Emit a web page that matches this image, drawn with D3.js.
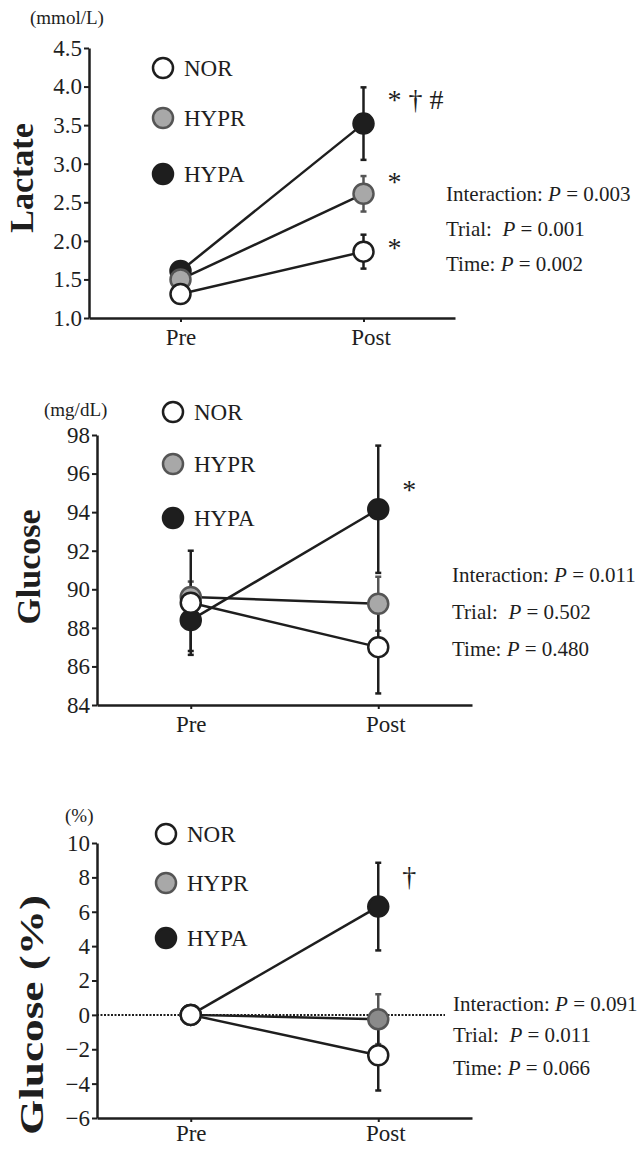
<!DOCTYPE html>
<html>
<head>
<meta charset="utf-8">
<script src="https://cdn.jsdelivr.net/npm/d3@7"></script>
<style>
  body { margin: 0; background: #fff; }
  svg { display: block; font-family: "Liberation Serif", "Times New Roman", serif; }
</style>
</head>
<body>
<div id="vis"></div>
<script>
var width = 637,
    height = 1149;

// data
var groups = ["NOR", "HYPR", "HYPA"];
var times = ["Pre", "Post"];

// lactate (mmol/L), [pre, post] per group
var lactateMean = [[1.31, 1.86], [1.50, 2.61], [1.61, 3.52]];
var lactateErr  = [[0.06, 0.22], [0.07, 0.23], [0.07, 0.47]];
var lactateTicks = [1.0, 1.5, 2.0, 2.5, 3.0, 3.5, 4.0, 4.5];
var lactateMarks = ["*", "*", "* \u2020 #"];
var lactateMarkY = [1.79, 2.65, 3.71];
var lactateStats = ["0.003", "0.001", "0.002"];

// glucose (mg/dL)
var glucoseMean = [[89.3, 87.0], [89.6, 89.25], [88.4, 94.15]];
var glucoseErr  = [[2.7, 2.4], [0.8, 1.4], [1.6, 3.3]];
var glucoseTicks = [84, 86, 88, 90, 92, 94, 96, 98];
var glucoseMarks = ["", "", "*"];
var glucoseMarkY = [0, 0, 94.68];
var glucoseStats = ["0.011", "0.502", "0.480"];

// glucose change (%)
var changeMean = [[0, -2.35], [0, -0.25], [0, 6.3]];
var changeErr  = [[0, 2.05], [0, 1.45], [0, 2.55]];
var changeTicks = [-6, -4, -2, 0, 2, 4, 6, 8, 10];
var changeMarks = ["", "", "\u2020"];
var changeMarkY = [0, 0, 7.5];
var changeStats = ["0.091", "0.011", "0.066"];

var fills = { NOR: "#ffffff", HYPR: "#a8a8a8", HYPA: "#1e1e1e" };
var strokes = { NOR: "#1e1e1e", HYPR: "#555555", HYPA: "#1e1e1e" };

var svg = d3.select("#vis").append("svg")
    .attr("width", width)
    .attr("height", height);

var panels = [
  { label: "Lactate", labelSize: 34, labelLen: null, unit: "(mmol/L)", unitX: 30, unitY: 24,
    mean: lactateMean, err: lactateErr, ticks: lactateTicks, fmt: d3.format(".1f"),
    domain: [1, 4.5], yr: [318, 48], xr: [89, 455],
    marks: lactateMarks, markY: lactateMarkY, stats: lactateStats, statX: 446, statY: [201, 236, 271],
    legX: 163, legY: [68, 118, 174], labelX: 33, labelY: 178, hyprFill: "#a8a8a8", zeroLine: false,
    xLabelY: 11 },
  { label: "Glucose", labelSize: 34, labelLen: null, unit: "(mg/dL)", unitX: 44, unitY: 416,
    mean: glucoseMean, err: glucoseErr, ticks: glucoseTicks, fmt: d3.format("d"),
    domain: [84, 98], yr: [705, 435], xr: [97, 472],
    marks: glucoseMarks, markY: glucoseMarkY, stats: glucoseStats, statX: 452, statY: [582, 619, 656],
    legX: 173, legY: [412, 464, 518], labelX: 40, labelY: 567, hyprFill: "#a8a8a8", zeroLine: false,
    xLabelY: 11 },
  { label: "Glucose (%)", labelSize: 33, labelLen: 240, unit: "(%)", unitX: 65, unitY: 822,
    mean: changeMean, err: changeErr, ticks: changeTicks, fmt: d3.format("d"),
    domain: [-6, 10], yr: [1118, 843], xr: [97, 472],
    marks: changeMarks, markY: changeMarkY, stats: changeStats, statX: 453, statY: [1011, 1042, 1075],
    legX: 166, legY: [834, 883, 938], labelX: 43, labelY: 1015, hyprFill: "#8a8a8a", zeroLine: true,
    xLabelY: 7 }
];

panels.forEach(function(p) {
  var g = svg.append("g");

  var y = d3.scaleLinear().domain(p.domain).range(p.yr);
  var x = d3.scalePoint().domain(times).range(p.xr).padding(0.5);

  // axes
  g.append("g")
    .attr("transform", "translate(" + p.xr[0] + ",0)")
    .call(d3.axisLeft(y).tickValues(p.ticks).tickFormat(p.fmt).tickSize(5).tickSizeOuter(0))
    .call(function(a) {
      a.attr("font-family", null);
      a.select(".domain").attr("stroke-width", 2.5).attr("stroke", "#1e1e1e");
      a.selectAll(".tick line").attr("stroke-width", 2).attr("stroke", "#1e1e1e");
      a.selectAll(".tick text").attr("font-size", 23).attr("fill", "#1e1e1e").attr("x", -7);
    });

  g.append("g")
    .attr("transform", "translate(0," + p.yr[0] + ")")
    .call(d3.axisBottom(x).tickSize(4).tickSizeOuter(0))
    .call(function(a) {
      a.attr("font-family", null);
      a.select(".domain").attr("stroke-width", 2.5).attr("stroke", "#1e1e1e");
      a.selectAll(".tick line").attr("stroke-width", 2).attr("stroke", "#1e1e1e");
      a.selectAll(".tick text").attr("font-size", 23).attr("fill", "#1e1e1e")
        .attr("y", p.xLabelY)
        .attr("dx", function(d) { return d == "Post" ? 7 : 0; });
    });

  if (p.zeroLine) {
    g.append("line")
      .attr("x1", p.xr[0]).attr("x2", p.xr[1] - 27)
      .attr("y1", y(0)).attr("y2", y(0))
      .attr("stroke", "#1e1e1e")
      .attr("stroke-width", 2)
      .attr("stroke-dasharray", "2,1.5");
  }

  // axis title + unit
  var title = g.append("text")
    .attr("transform", "translate(" + p.labelX + "," + p.labelY + ") rotate(-90)")
    .attr("text-anchor", "middle")
    .attr("font-size", p.labelSize)
    .attr("font-weight", "bold")
    .attr("fill", "#1e1e1e")
    .text(p.label);
  if (p.labelLen) title.attr("textLength", p.labelLen).attr("lengthAdjust", "spacingAndGlyphs");

  g.append("text")
    .attr("x", p.unitX).attr("y", p.unitY)
    .attr("font-size", 19)
    .attr("fill", "#1e1e1e")
    .text(p.unit);

  // series drawn HYPA first, NOR last (NOR sits on top)
  var order = [2, 1, 0];

  order.forEach(function(i) {
    var name = groups[i];
    var col = name == "HYPR" ? strokes.HYPR : "#1e1e1e";
    times.forEach(function(t, j) {
      var m = p.mean[i][j], e = p.err[i][j];
      if (e <= 0) return;
      g.append("line")
        .attr("x1", x(t)).attr("x2", x(t))
        .attr("y1", y(m - e)).attr("y2", y(m + e))
        .attr("stroke", col).attr("stroke-width", 2.5);
      [m - e, m + e].forEach(function(v) {
        g.append("line")
          .attr("x1", x(t) - 3).attr("x2", x(t) + 3)
          .attr("y1", y(v)).attr("y2", y(v))
          .attr("stroke", col).attr("stroke-width", 2.5);
      });
    });
  });

  order.forEach(function(i) {
    g.append("path")
      .datum(p.mean[i])
      .attr("fill", "none")
      .attr("stroke", "#1e1e1e")
      .attr("stroke-width", 2.5)
      .attr("d", d3.line()
        .x(function(d, j) { return x(times[j]); })
        .y(function(d) { return y(d); }));
  });

  order.forEach(function(i) {
    var name = groups[i];
    g.selectAll(null)
      .data(p.mean[i])
      .enter()
      .append("circle")
      .attr("cx", function(d, j) { return x(times[j]); })
      .attr("cy", function(d) { return y(d); })
      .attr("r", 10)
      .attr("fill", name == "HYPR" ? p.hyprFill : fills[name])
      .attr("stroke", strokes[name])
      .attr("stroke-width", 2.5);
  });

  // significance marks next to post points
  groups.forEach(function(name, i) {
    if (!p.marks[i]) return;
    g.append("text")
      .attr("x", x("Post") + 24)
      .attr("y", y(p.markY[i]))
      .attr("font-size", 28)
      .attr("fill", "#1e1e1e")
      .text(p.marks[i]);
  });

  // legend
  groups.forEach(function(name, i) {
    g.append("circle")
      .attr("cx", p.legX).attr("cy", p.legY[i])
      .attr("r", 10)
      .attr("fill", fills[name])
      .attr("stroke", strokes[name])
      .attr("stroke-width", 2.5);
    g.append("text")
      .attr("x", p.legX + 21).attr("y", p.legY[i] + 8)
      .attr("font-size", 23)
      .attr("fill", "#1e1e1e")
      .text(name);
  });

  // stats text
  var statNames = ["Interaction: ", "Trial:\u00a0 ", "Time: "];
  statNames.forEach(function(s, k) {
    var t = g.append("text")
      .attr("x", p.statX).attr("y", p.statY[k])
      .attr("font-size", 21)
      .attr("fill", "#1e1e1e")
      .attr("xml:space", "preserve");
    t.append("tspan").text(s);
    t.append("tspan").attr("font-style", "italic").text("P");
    t.append("tspan").text(" = " + p.stats[k]);
  });
});
</script>
</body>
</html>
